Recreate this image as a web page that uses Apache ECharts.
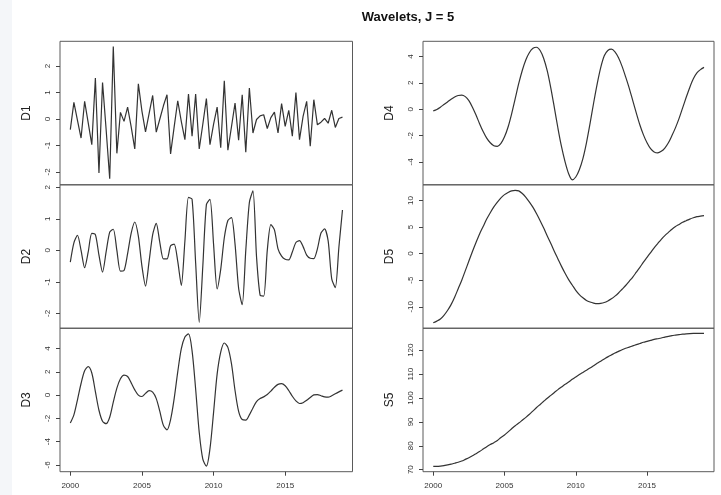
<!DOCTYPE html>
<html>
<head>
<meta charset="utf-8">
<title>Wavelets, J = 5</title>
<script src="https://cdn.jsdelivr.net/npm/echarts@6/dist/echarts.min.js"></script>
<style>
  html, body { margin: 0; padding: 0; background: #ffffff; }
  #chart { width: 721px; height: 495px; }
</style>
</head>
<body>
<div id="chart"></div>
<script>
// Quarterly series, first observation 2000 Q1
const startYear = 2000;
const stepYears = 0.25;

// Wavelet details D1..D5 and smooth S5
const D1 = [-0.40, 0.63, -0.05, -0.72, 0.67, -0.15, -0.97, 1.55, -2.04, 1.38,
  -0.40, -2.26, 2.74, -1.30, 0.25, -0.09, 0.45, -0.30, -1.13, 1.33,
  0.30, -0.49, 0.20, 0.89, -0.50, 0.00, 0.50, 0.92, -1.32, -0.30,
  0.69, -0.10, -0.78, 0.94, -0.65, 0.94, -1.13, -0.20, 0.77, -0.97,
  -0.20, 0.45, -1.09, 1.45, -1.18, -0.30, 0.60, -0.80, 0.92, -1.26,
  1.17, -0.53, -0.02, 0.12, 0.16, -0.36, 0.05, 0.26, -0.53, 0.58,
  -0.28, 0.33, -0.65, 1.00, -0.78, 0.10, 0.67, -1.03, 0.73, -0.22,
  -0.12, 0.02, -0.16, 0.33, -0.32, 0.02, 0.07];

const D2 = [-0.37, 0.24, 0.48, 0.00, -0.55, -0.05, 0.54, 0.50, -0.15, -0.69,
  -0.05, 0.58, 0.67, 0.00, -0.66, -0.64, -0.10, 0.55, 0.90, 0.45,
  -0.50, -1.13, -0.35, 0.50, 0.86, 0.25, -0.27, -0.27, 0.15, 0.20,
  -0.35, -1.11, 0.30, 1.68, 1.62, -0.40, -2.28, -0.50, 1.45, 1.62,
  0.20, -1.22, -0.60, 0.40, 0.95, 1.04, 0.20, -1.20, -1.72, 0.00,
  1.52, 1.89, -0.20, -1.42, -1.45, 0.00, 0.82, 0.65, 0.05, -0.18,
  -0.28, -0.30, -0.05, 0.25, 0.31, 0.12, -0.15, -0.25, -0.26, 0.05,
  0.55, 0.68, 0.30, -0.90, -1.18, 0.10, 1.28];

const D3 = [-2.40, -1.70, -0.40, 1.00, 2.10, 2.45, 1.90, 0.30, -1.30, -2.25,
  -2.45, -1.90, -0.60, 0.60, 1.40, 1.72, 1.60, 1.05, 0.45, 0.00,
  -0.12, 0.15, 0.38, 0.25, -0.30, -1.40, -2.60, -2.98, -2.10, -0.30,
  2.00, 4.00, 5.00, 5.26, 3.80, 0.50, -3.20, -5.50, -6.10, -4.60,
  -1.50, 1.80, 3.70, 4.48, 4.10, 2.70, 0.40, -1.40, -2.10, -2.15,
  -1.70, -1.10, -0.55, -0.30, -0.15, 0.05, 0.35, 0.68, 0.92, 0.98,
  0.80, 0.40, -0.10, -0.50, -0.72, -0.65, -0.45, -0.20, 0.02, 0.05,
  -0.05, -0.15, -0.18, -0.05, 0.12, 0.28, 0.43];

const D4 = [-0.13, -0.02, 0.15, 0.35, 0.55, 0.75, 0.92, 1.04, 1.07, 0.95,
  0.65, 0.15, -0.45, -1.10, -1.70, -2.20, -2.55, -2.78, -2.82, -2.60,
  -2.10, -1.35, -0.35, 0.80, 1.95, 2.95, 3.75, 4.30, 4.62, 4.70,
  4.45, 3.85, 2.90, 1.60, 0.10, -1.45, -2.85, -4.00, -4.90, -5.36,
  -5.15, -4.60, -3.75, -2.55, -1.10, 0.45, 1.90, 3.15, 4.05, 4.45,
  4.55, 4.35, 3.90, 3.25, 2.45, 1.60, 0.65, -0.30, -1.20, -1.95,
  -2.55, -3.00, -3.25, -3.32, -3.20, -2.95, -2.55, -2.00, -1.40, -0.70,
  0.10, 0.90, 1.65, 2.30, 2.75, 3.00, 3.17];

const D5 = [-13.0, -12.7, -12.3, -11.6, -10.7, -9.6, -8.2, -6.6, -5.0, -3.2,
  -1.4, 0.4, 2.1, 3.7, 5.1, 6.5, 7.7, 8.8, 9.7, 10.5,
  11.1, 11.5, 11.8, 11.9, 11.8, 11.3, 10.6, 9.7, 8.7, 7.5,
  6.2, 4.8, 3.3, 1.9, 0.4, -1.0, -2.4, -3.7, -4.9, -5.9,
  -6.9, -7.7, -8.3, -8.8, -9.1, -9.3, -9.4, -9.35, -9.2, -8.9,
  -8.5, -8.0, -7.4, -6.7, -6.0, -5.2, -4.4, -3.5, -2.6, -1.6,
  -0.7, 0.2, 1.1, 1.9, 2.7, 3.4, 4.0, 4.6, 5.1, 5.5,
  5.9, 6.2, 6.5, 6.75, 6.95, 7.05, 7.15];

const S5 = [71.4, 71.4, 71.5, 71.7, 72.0, 72.3, 72.7, 73.1, 73.6, 74.3,
  75.0, 75.8, 76.7, 77.6, 78.6, 79.6, 80.5, 81.3, 82.2, 83.5,
  84.5, 85.8, 87.1, 88.4, 89.5, 90.7, 91.9, 93.2, 94.6, 96.0,
  97.3, 98.6, 99.9, 101.1, 102.3, 103.5, 104.6, 105.7, 106.7, 107.8,
  108.8, 109.8, 110.7, 111.6, 112.5, 113.5, 114.5, 115.4, 116.3, 117.2,
  118.0, 118.8, 119.5, 120.2, 120.8, 121.3, 121.8, 122.3, 122.8, 123.3,
  123.7, 124.1, 124.5, 124.8, 125.1, 125.5, 125.8, 126.1, 126.3, 126.5,
  126.7, 126.85, 126.95, 127.0, 127.0, 127.0, 127.0];

// Tick labels
const xTicks = [2000, 2005, 2010, 2015];
const D1Ticks = [-2, -1, 0, 1, 2];
const D2Ticks = [-2, -1, 0, 1, 2];
const D3Ticks = [-6, -4, -2, 0, 2, 4];
const D4Ticks = [-4, -2, 0, 2, 4];
const D5Ticks = [-10, -5, 0, 5, 10];
const S5Ticks = [70, 80, 90, 100, 110, 120];

// Panel layout: two columns of three stacked panels
const panels = [
  { name: 'D1', values: D1, ticks: D1Ticks, min: -2.49, max: 2.94, col: 0, row: 0, smooth: false },
  { name: 'D2', values: D2, ticks: D2Ticks, min: -2.47, max: 2.08, col: 0, row: 1, smooth: 0.25 },
  { name: 'D3', values: D3, ticks: D3Ticks, min: -6.58, max: 5.75, col: 0, row: 2, smooth: 0.3 },
  { name: 'D4', values: D4, ticks: D4Ticks, min: -5.74, max: 5.15, col: 1, row: 0, smooth: 0.3 },
  { name: 'D5', values: D5, ticks: D5Ticks, min: -14.05, max: 12.95, col: 1, row: 1, smooth: 0.3 },
  { name: 'S5', values: S5, ticks: S5Ticks, min: 69.15, max: 129.2, col: 1, row: 2, smooth: 0.3 }
];

const colLeft = [60, 423];
const colWidth = [292.5, 291];
const rowTop = [41.3, 184.8, 328.2];
const rowHeight = 143.5;

const xMin = 1999.28;
const xMax = 2019.7;

const labelFont = 'Liberation Sans, Arial, Helvetica, sans-serif';

const grids = [], xAxes = [], yAxes = [], series = [];
panels.forEach((p, i) => {
  grids.push({
    left: colLeft[p.col], top: rowTop[p.row],
    width: colWidth[p.col], height: rowHeight,
    show: true, borderColor: '#5a5a5a', borderWidth: 1,
    backgroundColor: 'transparent', containLabel: false
  });
  const bottom = p.row === 2;
  xAxes.push({
    type: 'value', gridIndex: i, min: xMin, max: xMax,
    position: 'bottom',
    axisLine: { show: false, onZero: false },
    splitLine: { show: false },
    axisTick: { show: bottom, customValues: xTicks, length: 4, lineStyle: { color: '#444' } },
    axisLabel: {
      show: bottom, customValues: xTicks, margin: 10,
      fontSize: 8, color: '#333', fontFamily: labelFont,
      formatter: v => String(v)
    }
  });
  yAxes.push({
    type: 'value', gridIndex: i, min: p.min, max: p.max,
    position: 'left',
    name: p.name, nameLocation: 'middle', nameGap: 27,
    nameTextStyle: { fontSize: 12, color: '#222', fontFamily: labelFont },
    axisLine: { show: false, onZero: false },
    splitLine: { show: false },
    axisTick: { show: true, customValues: p.ticks, length: 4, lineStyle: { color: '#444' } },
    axisLabel: {
      customValues: p.ticks, rotate: 90, margin: 8,
      fontSize: 8, color: '#333', fontFamily: labelFont,
      formatter: v => String(v)
    }
  });
  series.push({
    type: 'line', xAxisIndex: i, yAxisIndex: i,
    data: p.values.map((v, k) => [startYear + k * stepYears, v]),
    showSymbol: false, smooth: p.smooth, silent: true,
    lineStyle: { color: '#333333', width: 1.2 }
  });
});

const chart = echarts.init(document.getElementById('chart'), null, { renderer: 'canvas' });
chart.setOption({
  animation: false,
  backgroundColor: '#ffffff',
  title: {
    text: 'Wavelets, J = 5', left: 403, top: 6, textAlign: 'center',
    textStyle: { fontSize: 13, fontWeight: 'bold', color: '#111', fontFamily: labelFont }
  },
  graphic: [{
    type: 'rect', left: 0, top: 0, z: -10,
    shape: { width: 12, height: 495 },
    style: { fill: '#f4f6f9' }
  }],
  grid: grids,
  xAxis: xAxes,
  yAxis: yAxes,
  series: series
});
</script>
</body>
</html>
